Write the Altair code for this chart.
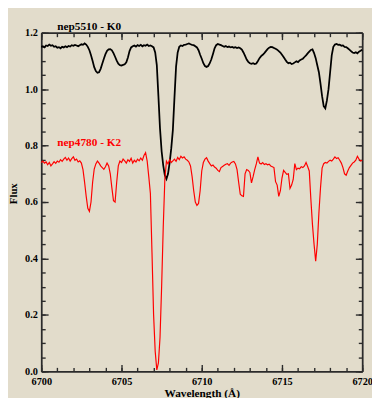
import altair as alt
import pandas as pd

# ---- data ----
wave_start = 6700.0
wave_step = 0.1

flux_k0 = [
    1.150, 1.152, 1.148, 1.155, 1.153, 1.158, 1.154, 1.156, 1.150, 1.152,
    1.147, 1.149, 1.145, 1.150, 1.148, 1.152, 1.149, 1.153, 1.151, 1.156,
    1.154, 1.157, 1.155, 1.152, 1.156, 1.159, 1.157, 1.162, 1.158, 1.150,
    1.138, 1.120, 1.100, 1.078, 1.064, 1.058, 1.060, 1.072, 1.090, 1.108,
    1.124, 1.136, 1.141, 1.142, 1.138, 1.128, 1.115, 1.101, 1.090, 1.085,
    1.084, 1.086, 1.088, 1.095, 1.112, 1.135, 1.148, 1.152, 1.155, 1.151,
    1.156, 1.153, 1.157, 1.152, 1.156, 1.154, 1.158, 1.153, 1.155, 1.152,
    1.148, 1.130, 1.085, 0.975, 0.860, 0.780, 0.730, 0.695, 0.682, 0.700,
    0.740, 0.790, 0.855, 0.970, 1.080, 1.130, 1.150, 1.155, 1.153, 1.157,
    1.158, 1.160, 1.162, 1.159, 1.157, 1.156, 1.152, 1.148, 1.138, 1.122,
    1.108, 1.092, 1.082, 1.079, 1.082, 1.092, 1.106, 1.125, 1.145, 1.156,
    1.160, 1.158, 1.156, 1.153, 1.150, 1.153, 1.149, 1.151, 1.148, 1.150,
    1.147, 1.149, 1.146, 1.148, 1.145, 1.140, 1.130, 1.118, 1.105, 1.097,
    1.092, 1.090, 1.092, 1.089, 1.091, 1.100, 1.110, 1.117, 1.122, 1.128,
    1.135, 1.142, 1.147, 1.150, 1.149, 1.146, 1.143, 1.140, 1.135, 1.130,
    1.122, 1.114, 1.105, 1.097, 1.092, 1.094, 1.089, 1.091, 1.095, 1.099,
    1.096, 1.102, 1.105, 1.108, 1.114, 1.120, 1.127, 1.133, 1.139, 1.141,
    1.128, 1.110, 1.085, 1.060, 1.020, 0.975, 0.940, 0.932, 0.960, 1.000,
    1.060, 1.120, 1.150, 1.158, 1.160, 1.157, 1.158, 1.154, 1.155, 1.150,
    1.149, 1.145, 1.140, 1.135, 1.130, 1.128, 1.131, 1.127, 1.133, 1.136,
    1.140,
]

flux_k2 = [
    0.740, 0.745, 0.738, 0.742, 0.732, 0.740, 0.728, 0.735, 0.743, 0.737,
    0.745, 0.741, 0.750, 0.744, 0.752, 0.758, 0.748, 0.756, 0.745, 0.754,
    0.760, 0.748, 0.752, 0.742, 0.746, 0.738, 0.715, 0.670, 0.620, 0.578,
    0.567, 0.600, 0.670, 0.717, 0.735, 0.745, 0.738, 0.728, 0.722, 0.716,
    0.725, 0.738, 0.728, 0.700, 0.650, 0.605, 0.600, 0.670, 0.728, 0.745,
    0.740, 0.752, 0.746, 0.738, 0.750, 0.744, 0.755, 0.738, 0.748, 0.742,
    0.752, 0.746, 0.756, 0.748, 0.765, 0.775, 0.745, 0.690, 0.630, 0.420,
    0.200, 0.070, 0.005, 0.030, 0.120, 0.300, 0.510, 0.680, 0.745, 0.735,
    0.750, 0.740, 0.746, 0.752, 0.744, 0.758, 0.750, 0.762, 0.756, 0.760,
    0.752, 0.748, 0.742, 0.728, 0.690, 0.640, 0.600, 0.588, 0.595, 0.640,
    0.710, 0.740, 0.752, 0.757, 0.745, 0.736, 0.728, 0.731, 0.724, 0.720,
    0.712, 0.708, 0.722, 0.726, 0.730, 0.734, 0.736, 0.730, 0.738, 0.742,
    0.744, 0.735, 0.715, 0.670, 0.628, 0.622, 0.620, 0.700, 0.715, 0.712,
    0.705, 0.668, 0.690, 0.715, 0.735, 0.760, 0.738, 0.735, 0.740, 0.733,
    0.736, 0.732, 0.734, 0.728, 0.725, 0.722, 0.672, 0.660, 0.620, 0.640,
    0.685, 0.712, 0.705, 0.698, 0.700, 0.648, 0.660, 0.680, 0.736, 0.715,
    0.720, 0.718, 0.725, 0.722, 0.728, 0.740, 0.726, 0.710, 0.610, 0.520,
    0.450, 0.390, 0.450, 0.560, 0.650, 0.720, 0.736, 0.740, 0.738, 0.744,
    0.748, 0.745, 0.752, 0.760, 0.754, 0.757, 0.748, 0.738, 0.722, 0.700,
    0.695, 0.710, 0.722, 0.730, 0.738, 0.742, 0.748, 0.762, 0.752, 0.745,
    0.748,
]

label_text = ["nep5510 - K0", "nep4780 - K2"]
label_wave = [6701.0, 6701.0]
label_flux = [1.208, 0.798]
label_color = ["black", "red"]

x_major = [6700, 6705, 6710, 6715, 6720]
x_minor = list(range(6700, 6721))
y_major = [0.0, 0.2, 0.4, 0.6, 0.8, 1.0, 1.2]
y_minor = [round(0.05 * i, 2) for i in range(25)]

# ---- tables ----
wavelength = [round(wave_start + wave_step * i, 1) for i in range(len(flux_k0))]
spec = pd.DataFrame({"wave": wavelength, "k0": flux_k0, "k2": flux_k2})
labels = pd.DataFrame({"text": label_text, "wave": label_wave,
                       "flux": label_flux, "color": label_color})

W, H = 328, 346
FONT = "Liberation Serif"
AX = "#2b2b2b"

xs = alt.Scale(domain=[6700, 6720], nice=False, zero=False)
ys = alt.Scale(domain=[0, 1.2], nice=False, zero=False)


def tick_axis(orient, offset, values, size, domain=False):
    return alt.Axis(orient=orient, offset=offset, values=values,
                    tickSize=size, tickColor=AX, tickWidth=1.4,
                    labels=False, domain=domain, domainColor=AX,
                    domainWidth=1.8, grid=False, title=None)


black = alt.Chart(spec).mark_line(color="black", strokeWidth=1.8).encode(
    x=alt.X("wave:Q", scale=xs, axis=alt.Axis(
        orient="bottom", values=x_major, format="d", ticks=False,
        grid=False, domain=True, domainColor=AX, domainWidth=1.8,
        labelFont=FONT, labelFontWeight="bold", labelFontSize=10.5,
        labelColor="black", labelPadding=5, labelFlush=False,
        labelOverlap=False,
        title="Wavelength (Å)", titleFont=FONT, titleFontWeight="bold",
        titleFontSize=11.5, titleColor="black", titleY=26,
        titleBaseline="alphabetic")),
    y=alt.Y("k0:Q", scale=ys, axis=alt.Axis(
        orient="left", values=y_major, format=".1f", ticks=False,
        grid=False, domain=True, domainColor=AX, domainWidth=1.8,
        labelFont=FONT, labelFontWeight="bold", labelFontSize=10.5,
        labelColor="black", labelPadding=4, labelOverlap=False,
        title="Flux", titleFont=FONT, titleFontWeight="bold",
        titleFontSize=11, titleColor="black", titleX=-23, titleY=164,
        titleBaseline="bottom")),
)

red = alt.Chart(spec).mark_line(color="#ff0000", strokeWidth=1.2).encode(
    x=alt.X("wave:Q", scale=xs, axis=tick_axis("top", -H, x_major, 7)),
    y=alt.Y("k2:Q", scale=ys, axis=tick_axis("right", -W, y_major, 7)),
)

text = alt.Chart(labels).mark_text(
    font=FONT, fontWeight="bold", fontSize=11.5, align="left",
    baseline="alphabetic").encode(
    x=alt.X("wave:Q", scale=xs, axis=tick_axis("top", -H, x_minor, 4)),
    y=alt.Y("flux:Q", scale=ys, axis=tick_axis("right", -W, y_minor, 4)),
    text="text:N",
    color=alt.Color("color:N", scale=None),
)

frame_major = alt.Chart(spec).mark_line(opacity=0).encode(
    x=alt.X("wave:Q", scale=xs,
            axis=tick_axis("bottom", -H, x_major, 7, domain=True)),
    y=alt.Y("k0:Q", scale=ys,
            axis=tick_axis("left", -W, y_major, 7, domain=True)),
)

frame_minor = alt.Chart(spec).mark_line(opacity=0).encode(
    x=alt.X("wave:Q", scale=xs, axis=tick_axis("bottom", -H, x_minor, 4)),
    y=alt.Y("k2:Q", scale=ys, axis=tick_axis("left", -W, y_minor, 4)),
)

chart = alt.layer(black, red, text, frame_major, frame_minor).resolve_axis(
    x="independent", y="independent"
).properties(
    width=W, height=H,
    padding={"left": 34, "top": 21, "right": 10, "bottom": 23},
    autosize=alt.AutoSizeParams(type="none"),
    background="#e2dccb",
).configure_view(stroke=None)

chart.save("out.html", embed_options={"renderer": "svg", "actions": False})
